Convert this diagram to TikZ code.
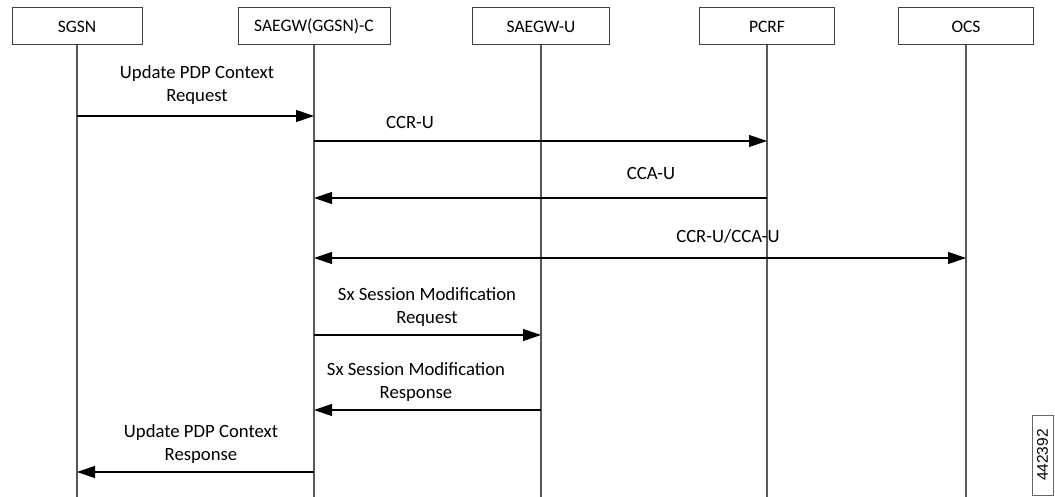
\documentclass[tikz,border=0pt]{standalone}
\usepackage{fontspec}
\setmainfont{Carlito}
\newfontfamily\arialfont{Liberation Sans}
\usetikzlibrary{arrows.meta}
\begin{document}
\begin{tikzpicture}[x=1pt,y=-1pt,
  hdr/.style={draw=black!75,line width=1pt,minimum height=37pt,inner sep=0pt,font=\fontsize{17.5}{20}\selectfont},
  life/.style={draw=black!65,line width=1.3pt},
  msg/.style={draw=black,line width=1.1pt,-{Triangle[length=18pt,width=12pt]}},
  dmsg/.style={draw=black,line width=1.1pt,{Triangle[length=18pt,width=12pt]}-{Triangle[length=18pt,width=12pt]}},
  lbl/.style={align=center,inner sep=0pt,font=\fontsize{18.7}{23}\selectfont}]
\useasboundingbox (0,0) rectangle (1055,497);
% header boxes
\node[hdr,minimum width=130pt] (sgsn) at (77,26.5) {SGSN};
\node[hdr,minimum width=152pt] (gwc) at (314,26.5) {SAEGW(GGSN)-C};
\node[hdr,minimum width=137pt] (gwu) at (541,26.5) {SAEGW-U};
\node[hdr,minimum width=135pt] (pcrf) at (767,26.5) {PCRF};
\node[hdr,minimum width=135pt] (ocs) at (966,26.5) {OCS};
% lifeline ends
\coordinate (sgsnE) at (sgsn.south |- 0,497);
\coordinate (gwcE) at (gwc.south |- 0,497);
\coordinate (gwuE) at (gwu.south |- 0,497);
\coordinate (pcrfE) at (pcrf.south |- 0,497);
\coordinate (ocsE) at (ocs.south |- 0,497);
\draw[life] (sgsn.south) -- (sgsnE);
\draw[life] (gwc.south) -- (gwcE);
\draw[life] (gwu.south) -- (gwuE);
\draw[life] (pcrf.south) -- (pcrfE);
\draw[life] (ocs.south) -- (ocsE);
% message points
\foreach \n/\y in {1/116,2/141,3/198,4/258,5/335,6/410,7/472}{
  \coordinate (s\n) at (sgsn.south |- 0,\y);
  \coordinate (c\n) at (gwc.south |- 0,\y);
  \coordinate (u\n) at (gwu.south |- 0,\y);
  \coordinate (p\n) at (pcrf.south |- 0,\y);
  \coordinate (o\n) at (ocs.south |- 0,\y);
}
\draw[msg] (s1) -- (c1);
\draw[msg] (c2) -- (p2);
\draw[msg] (p3) -- (c3);
\draw[dmsg] (c4) -- (o4);
\draw[msg] (c5) -- (u5);
\draw[msg] (u6) -- (c6);
\draw[msg] (c7) -- (s7);
% labels
\node[lbl] (l1) at (197,85) {Update PDP Context\\Request};
\node[lbl] (l2) at (410,123) {CCR-U};
\node[lbl] (l3) at (651,174) {CCA-U};
\node[lbl] (l4) at (728,236) {CCR-U/CCA-U};
\node[lbl] (l5) at (427,307) {Sx Session Modification\\Request};
\node[lbl] (l6) at (416,382) {Sx Session Modification\\Response};
\node[lbl] (l7) at (201,444) {Update PDP Context\\Response};
% figure number
\node[draw=black!60,line width=0.8pt,rotate=90,minimum width=80pt,minimum height=21pt,inner sep=0pt,font=\arialfont\fontsize{15.5}{17}\selectfont] (fig) at (1042.5,455) {442392};
\end{tikzpicture}
\end{document}
